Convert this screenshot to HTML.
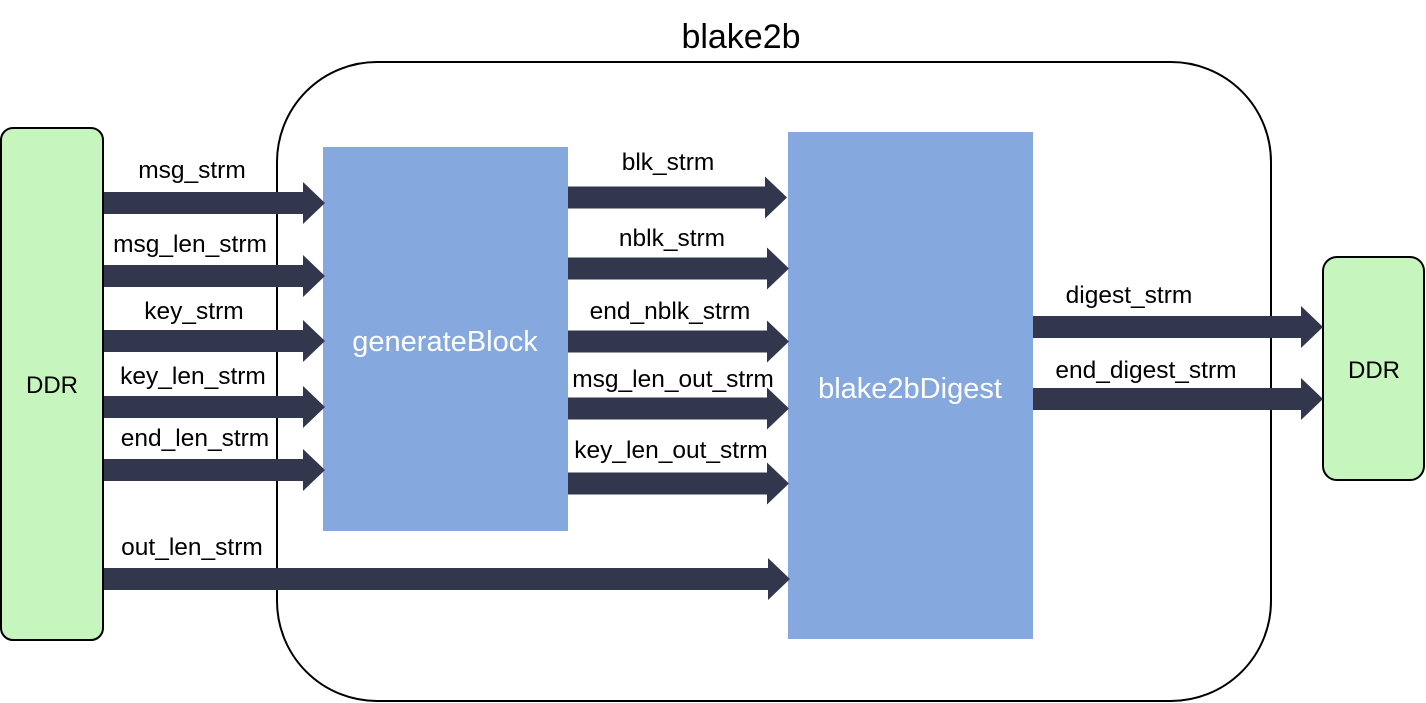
<!DOCTYPE html>
<html><head><meta charset="utf-8"><style>
html,body{margin:0;padding:0;background:#fff;}
svg{display:block;}
text{font-family:"Liberation Sans",Arial,sans-serif;}
</style></head><body>
<svg width="1426" height="703" viewBox="0 0 1426 703" xmlns="http://www.w3.org/2000/svg">
<rect x="277" y="62" width="994" height="639" rx="100" ry="100" fill="#fff" stroke="#000" stroke-width="2"/>
<text x="741" y="48" font-size="34" text-anchor="middle">blake2b</text>
<rect x="1" y="128" width="102" height="512" rx="12" fill="#c6f5bd" stroke="#000" stroke-width="2"/>
<text x="52" y="393" font-size="24" text-anchor="middle">DDR</text>
<rect x="1323" y="257" width="101" height="223" rx="14" fill="#c6f5bd" stroke="#000" stroke-width="2"/>
<text x="1374" y="378" font-size="24" text-anchor="middle">DDR</text>
<rect x="323" y="147" width="245" height="384" fill="#85a8de"/>
<text x="445" y="351" font-size="29" fill="#fff" text-anchor="middle">generateBlock</text>
<rect x="788" y="132" width="245" height="507" fill="#85a8de"/>
<text x="910" y="398" font-size="29" fill="#fff" text-anchor="middle">blake2bDigest</text>
<g fill="#32374d">
<path d="M104 192H303V182L325 203L303 224V214H104Z"/>
<path d="M104 265H303V255L325 276L303 297V287H104Z"/>
<path d="M104 330H303V320L325 341L303 362V352H104Z"/>
<path d="M104 396H303V386L325 407L303 428V418H104Z"/>
<path d="M104 459H303V449L325 470L303 491V481H104Z"/>
<path d="M104 568H768V558L790 579L768 600V590H104Z"/>
<path d="M568 186.5H765V176.5L787 197.5L765 218.5V208.5H568Z"/>
<path d="M568 257.5H767V247.5L789 268.5L767 289.5V279.5H568Z"/>
<path d="M568 330.5H767V320.5L789 341.5L767 362.5V352.5H568Z"/>
<path d="M568 397.5H767V387.5L789 408.5L767 429.5V419.5H568Z"/>
<path d="M568 472.5H767V462.5L789 483.5L767 504.5V494.5H568Z"/>
<path d="M1033 316H1301V306L1323 327L1301 348V338H1033Z"/>
<path d="M1033 388H1301V378L1323 399L1301 420V410H1033Z"/>
</g>
<g font-size="24.5" text-anchor="middle">
<text x="192" y="178">msg_strm</text>
<text x="190" y="252">msg_len_strm</text>
<text x="194" y="319">key_strm</text>
<text x="193" y="384">key_len_strm</text>
<text x="195" y="446">end_len_strm</text>
<text x="192" y="555">out_len_strm</text>
<text x="668" y="170">blk_strm</text>
<text x="672" y="246">nblk_strm</text>
<text x="670" y="319">end_nblk_strm</text>
<text x="673" y="387">msg_len_out_strm</text>
<text x="671" y="458">key_len_out_strm</text>
<text x="1129" y="303">digest_strm</text>
<text x="1146" y="378">end_digest_strm</text>
</g>
</svg>
</body></html>
